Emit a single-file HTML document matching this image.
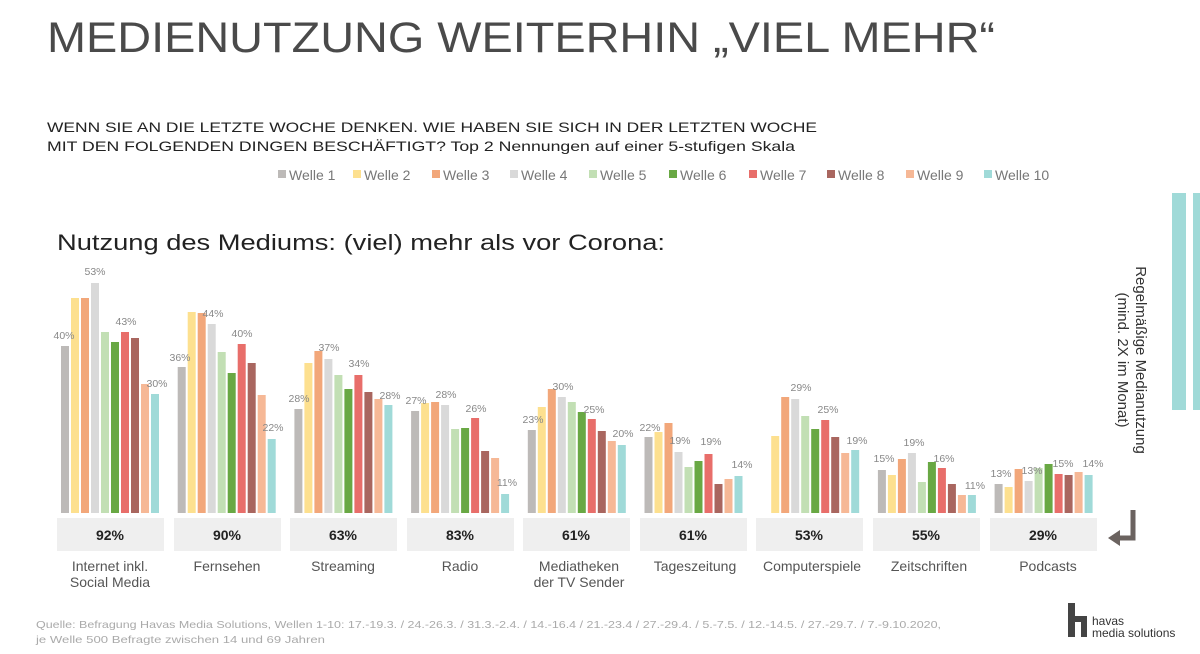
<!DOCTYPE html>
<html><head><meta charset="utf-8"><style>
html,body{margin:0;padding:0;background:#fff;}
svg{display:block;font-family:"Liberation Sans",sans-serif;}
</style></head><body>
<svg id="s" width="1200" height="654" viewBox="0 0 1200 654" xmlns="http://www.w3.org/2000/svg">
<text x="47" y="52" font-size="43" fill="#4a4a4a" textLength="948" lengthAdjust="spacingAndGlyphs" font-weight="300">MEDIENUTZUNG WEITERHIN „VIEL MEHR“</text>
<text x="47" y="132" font-size="14" fill="#222" textLength="770" lengthAdjust="spacingAndGlyphs">WENN SIE AN DIE LETZTE WOCHE DENKEN. WIE HABEN SIE SICH IN DER LETZTEN WOCHE</text>
<text x="47" y="151" font-size="14" fill="#222" textLength="748" lengthAdjust="spacingAndGlyphs">MIT DEN FOLGENDEN DINGEN BESCHÄFTIGT? Top 2 Nennungen auf einer 5-stufigen Skala</text>
<g font-size="14" fill="#777">
<rect x="278" y="170" width="8" height="8" fill="#bdbab8"/><text x="289" y="180">Welle 1</text>
<rect x="353" y="170" width="8" height="8" fill="#fde08f"/><text x="364" y="180">Welle 2</text>
<rect x="432" y="170" width="8" height="8" fill="#f2a77a"/><text x="443" y="180">Welle 3</text>
<rect x="510" y="170" width="8" height="8" fill="#d9d9d9"/><text x="521" y="180">Welle 4</text>
<rect x="589" y="170" width="8" height="8" fill="#c2dfb4"/><text x="600" y="180">Welle 5</text>
<rect x="669" y="170" width="8" height="8" fill="#69a844"/><text x="680" y="180">Welle 6</text>
<rect x="749" y="170" width="8" height="8" fill="#e86e6a"/><text x="760" y="180">Welle 7</text>
<rect x="827" y="170" width="8" height="8" fill="#a9665f"/><text x="838" y="180">Welle 8</text>
<rect x="906" y="170" width="8" height="8" fill="#f6b896"/><text x="917" y="180">Welle 9</text>
<rect x="984" y="170" width="8" height="8" fill="#a0dad8"/><text x="995" y="180">Welle 10</text>
</g>
<text x="57" y="250" font-size="22" fill="#222" textLength="608" lengthAdjust="spacingAndGlyphs">Nutzung des Mediums: (viel) mehr als vor Corona:</text>
<g id="bars"></g>
<g font-size="10.5" fill="#888" text-anchor="middle">
<text x="64" y="339">40%</text><text x="95" y="275">53%</text><text x="126" y="325">43%</text><text x="157" y="387">30%</text>
<text x="180" y="361">36%</text><text x="213" y="317">44%</text><text x="242" y="337">40%</text><text x="273" y="431">22%</text>
<text x="299" y="402">28%</text><text x="329" y="351">37%</text><text x="359" y="367">34%</text><text x="390" y="399">28%</text>
<text x="416" y="404">27%</text><text x="446" y="398">28%</text><text x="476" y="412">26%</text><text x="507" y="486">11%</text>
<text x="533" y="423">23%</text><text x="563" y="390">30%</text><text x="594" y="413">25%</text><text x="623" y="437">20%</text>
<text x="650" y="431">22%</text><text x="680" y="444">19%</text><text x="711" y="445">19%</text><text x="742" y="468">14%</text>
<text x="801" y="391">29%</text><text x="828" y="413">25%</text><text x="857" y="444">19%</text>
<text x="884" y="462">15%</text><text x="914" y="446">19%</text><text x="944" y="462">16%</text><text x="975" y="489">11%</text>
<text x="1001" y="477">13%</text><text x="1032" y="474">13%</text><text x="1063" y="467">15%</text><text x="1093" y="467">14%</text>
</g>
<g fill="#efefef">
<rect x="57" y="518" width="107" height="33"/><rect x="174" y="518" width="107" height="33"/><rect x="290" y="518" width="107" height="33"/>
<rect x="407" y="518" width="107" height="33"/><rect x="523" y="518" width="107" height="33"/><rect x="640" y="518" width="107" height="33"/>
<rect x="756" y="518" width="107" height="33"/><rect x="873" y="518" width="107" height="33"/><rect x="990" y="518" width="107" height="33"/>
</g>
<g font-size="14" font-weight="bold" fill="#222" text-anchor="middle">
<text x="110" y="540">92%</text><text x="227" y="540">90%</text><text x="343" y="540">63%</text><text x="460" y="540">83%</text><text x="576" y="540">61%</text><text x="693" y="540">61%</text><text x="809" y="540">53%</text><text x="926" y="540">55%</text><text x="1043" y="540">29%</text>
</g>
<g font-size="14" fill="#555" text-anchor="middle">
<text x="110" y="571">Internet inkl.</text><text x="110" y="587">Social Media</text>
<text x="227" y="571">Fernsehen</text><text x="343" y="571">Streaming</text><text x="460" y="571">Radio</text>
<text x="579" y="571">Mediatheken</text><text x="579" y="587">der TV Sender</text>
<text x="695" y="571">Tageszeitung</text><text x="812" y="571">Computerspiele</text><text x="929" y="571">Zeitschriften</text><text x="1048" y="571">Podcasts</text>
</g>
<rect x="1172" y="193" width="14" height="217" fill="#a0dad8"/>
<rect x="1193" y="193" width="7" height="217" fill="#a0dad8"/>
<g font-size="15" fill="#333" text-anchor="middle">
<text transform="translate(1136,360) rotate(90)">Regelmäßige Medianutzung</text>
<text transform="translate(1118,360) rotate(90)">(mind. 2X im Monat)</text>
</g>
<path d="M1133 510 V538 H1118" fill="none" stroke="#6b6360" stroke-width="5"/>
<path d="M1108 538 L1120 530 L1120 546 Z" fill="#6b6360"/>
<g font-size="10.5" fill="#aaa">
<text x="36" y="628" textLength="905" lengthAdjust="spacingAndGlyphs">Quelle: Befragung Havas Media Solutions, Wellen 1-10: 17.-19.3. / 24.-26.3. / 31.3.-2.4. / 14.-16.4 / 21.-23.4 / 27.-29.4. / 5.-7.5. / 12.-14.5. / 27.-29.7. / 7.-9.10.2020,</text>
<text x="36" y="643" textLength="289" lengthAdjust="spacingAndGlyphs">je Welle 500 Befragte zwischen 14 und 69 Jahren</text>
</g>
<rect x="1068" y="603" width="7" height="34" fill="#444"/>
<rect x="1068" y="616" width="18" height="6" fill="#444"/>
<rect x="1081" y="616" width="6" height="21" fill="#444"/>
<text x="1092" y="625" font-size="12" fill="#333">havas</text>
<text x="1092" y="637" font-size="12" fill="#333">media solutions</text>
</svg>
<script>
var c=["#bdbab8","#fde08f","#f2a77a","#d9d9d9","#c2dfb4","#69a844","#e86e6a","#a9665f","#f6b896","#a0dad8"];
var t=[[346,298,298,283,332,342,332,338,384,394],[367,312,313,324,352,373,344,363,395,439],[409,363,351,359,375,389,375,392,399,405],[411,403,402,405,429,428,418,451,458,494],[430,407,389,397,402,412,419,431,441,445],[437,432,423,452,467,461,454,484,479,476],[513,436,397,399,416,429,420,437,453,450],[470,475,459,453,482,462,468,484,495,495],[484,487,469,481,468,464,474,475,472,475]];
var s="";for(var g=0;g<9;g++){var x0=61+g*116.7;for(var i=0;i<10;i++){var y=t[g][i];if(y>=513)continue;s+='<rect x="'+(x0+i*10).toFixed(1)+'" y="'+y+'" width="8" height="'+(513-y)+'" fill="'+c[i]+'"/>';}}
document.getElementById("bars").innerHTML=s;
</script>
</body></html>
